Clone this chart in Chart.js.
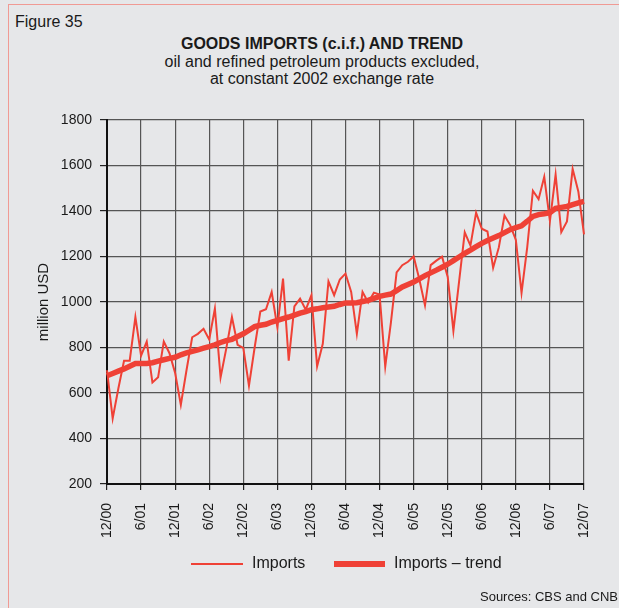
<!DOCTYPE html>
<html>
<head>
<meta charset="utf-8">
<script src="https://cdn.jsdelivr.net/npm/chart.js@4.4.1/dist/chart.umd.min.js"></script>
<style>
  html, body { margin: 0; padding: 0; }
  body { width: 619px; height: 608px; background: #e6e7e9; position: relative; overflow: hidden;
         font-family: "Liberation Sans", Arial, sans-serif; color: #1a1a1a; }
  .frame { position: absolute; left: 8px; top: 4px; right: -10px; bottom: -10px;
           border-left: 1.5px solid #f09a94; border-top: 1.5px solid #f09a94; }
  .fig { position: absolute; left: 15px; top: 13px; font-size: 16px; }
  .head { position: absolute; left: 22px; width: 600px; top: 35px; text-align: center;
          font-size: 16px; line-height: 17.5px; }
  .head b { font-size: 16px; }
  #chart { position: absolute; left: 0; top: 0; }
  .legend { position: absolute; top: 554px; left: 0; width: 619px; height: 20px; font-size: 16px; }
  .legend span { position: absolute; top: 0; }
  .legend i { position: absolute; background: #ef4136; }
  .src { position: absolute; right: 1px; top: 589px; font-size: 13px; }
</style>
</head>
<body>
<div class="frame"></div>
<div class="fig">Figure 35</div>
<div class="head">
  <b>GOODS IMPORTS (c.i.f.) AND TREND</b><br>
  oil and refined petroleum products excluded,<br>
  at constant 2002 exchange rate
</div>
<canvas id="chart" width="619" height="608"></canvas>
<div class="legend">
  <i style="left:191px; top:9px; width:52px; height:2px;"></i>
  <span style="left:252px;">Imports</span>
  <i style="left:334px; top:7px; width:51px; height:6px;"></i>
  <span style="left:394px;">Imports – trend</span>
</div>
<div class="src">Sources: CBS and CNB</div>

<script>
// monthly, 12/2000 .. 12/2007 (million USD)
const imports = [
  700, 488, 620, 742, 742, 934, 764, 826, 646, 669, 826, 775,
  688, 548, 700, 845, 860, 882, 835, 971, 668, 795, 934, 812,
  798, 632, 800, 958, 968, 1044, 889, 1103, 742, 981, 1015, 966,
  1030, 717, 816, 1091, 1030, 1099, 1125, 1044, 860, 1044, 998, 1041,
  1033, 716, 910, 1130, 1162, 1177, 1200, 1100, 985, 1162, 1182, 1199,
  1110, 873, 1090, 1306, 1248, 1393, 1322, 1310, 1150, 1240, 1380, 1338,
  1273, 1040, 1240, 1489, 1452, 1550, 1356, 1560, 1307, 1354, 1585, 1486,
  1297
];
const importsTrend = [
  676, 686, 696, 706, 718, 730, 730, 730, 733, 740, 746, 752,
  757, 768, 776, 783, 790, 797, 804, 812, 822, 830, 836, 848,
  860, 876, 892, 898, 902, 912, 919, 927, 934, 942, 951, 958,
  966, 970, 975, 978, 981, 989, 996, 996, 997, 1002, 1007, 1016,
  1025, 1030, 1035, 1050, 1066, 1077, 1088, 1102, 1116, 1128, 1140, 1153,
  1166, 1182, 1198, 1214, 1228, 1243, 1258, 1270, 1281, 1292, 1305, 1318,
  1327, 1335, 1355, 1376, 1384, 1388, 1393, 1412, 1416, 1420, 1428, 1436,
  1442
];
const yTicks = { min: 200, max: 1800, step: 200 };

// month labels m/yy, a tick every six months
const months = [];
for (let k = 0; k < imports.length; k++) {
  const m = ((11 + k) % 12) + 1;
  const y = Math.floor((11 + k) / 12);
  months.push(m + '/' + String(y).padStart(2, '0'));
}

const RED = '#ef4136';
const GRID = '#555';
const FONT = { family: '"Liberation Sans", Arial, sans-serif', size: 14 };

new Chart(document.getElementById('chart'), {
  type: 'line',
  data: {
    labels: months,
    datasets: [
      { label: 'Imports', data: imports, borderColor: RED, borderWidth: 2,
        pointRadius: 0, tension: 0, fill: false },
      { label: 'Imports – trend', data: importsTrend, borderColor: RED, borderWidth: 5.5,
        pointRadius: 0, tension: 0, fill: false }
    ]
  },
  options: {
    responsive: false,
    animation: false,
    layout: { padding: { left: 31, top: 120, right: 35, bottom: 64 } },
    plugins: { legend: { display: false }, tooltip: { enabled: false } },
    scales: {
      x: {
        offset: false,
        afterFit(scale) { scale.height = 60; },
        border: { color: '#111', width: 2 },
        grid: {
          color: c => (c.index % 6 === 0 ? GRID : 'rgba(0,0,0,0)'),
          lineWidth: 1.2,
          tickLength: 6,
          tickColor: c => (c.index % 6 === 0 ? '#222' : 'rgba(0,0,0,0)')
        },
        ticks: {
          autoSkip: false,
          maxRotation: 90,
          minRotation: 90,
          padding: 13,
          color: '#1a1a1a',
          font: FONT,
          callback: (v, i) => (i % 6 === 0 ? months[i] : '')
        }
      },
      y: {
        min: yTicks.min,
        max: yTicks.max,
        afterFit(scale) { scale.width = 76; },
        border: { color: '#111', width: 2 },
        grid: { color: GRID, lineWidth: 1.2, tickLength: 7, tickColor: '#222' },
        ticks: { stepSize: yTicks.step, padding: 8, color: '#1a1a1a', font: FONT,
                 callback: v => String(v) },
        title: {
          display: true,
          text: 'million USD',
          color: '#1a1a1a',
          font: { family: FONT.family, size: 15 },
          padding: { top: 4, bottom: 4 }
        }
      }
    }
  }
});
</script>
</body>
</html>
